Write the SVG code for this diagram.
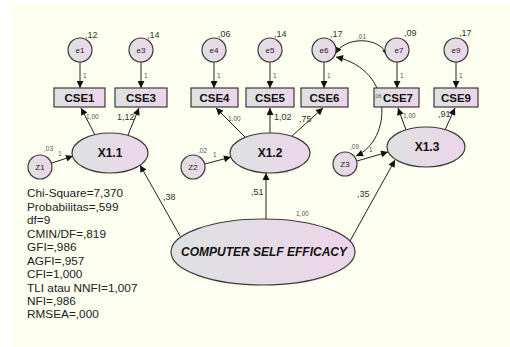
<svg xmlns="http://www.w3.org/2000/svg" width="510" height="347" viewBox="0 0 510 347">
  <defs>
    <linearGradient id="fillGrad" x1="0" y1="0" x2="1" y2="0">
      <stop offset="0" stop-color="#dde2e1"/>
      <stop offset="1" stop-color="#eed5ea"/>
    </linearGradient>
    <marker id="arrow" viewBox="0 0 10 10" refX="10" refY="5" markerWidth="8" markerHeight="7" markerUnits="userSpaceOnUse" orient="auto-start-reverse">
      <path d="M0,0 L10,5 L0,10 z" fill="#111"/>
    </marker>
    <style>
      .node { fill: url(#fillGrad); stroke: #3a3a3a; stroke-width: 1.2; }
      .edge { fill: none; stroke: #222; stroke-width: 1; }
      .arr { marker-end: url(#arrow); }
      .both { marker-start: url(#arrow); marker-end: url(#arrow); }
      text { font-family: "Liberation Sans", Arial, sans-serif; fill: #222; }
      .box { font-size: 11.5px; font-weight: bold; text-anchor: middle; fill: #111; }
      .lat { font-size: 12px; font-weight: bold; text-anchor: middle; fill: #111; }
      .err { font-size: 8px; text-anchor: middle; }
      .var { font-size: 9px; fill: #333; }
      .lbl { font-size: 9px; fill: #333; }
      .tiny { font-size: 6.5px; fill: #555; }
      .stat { font-size: 11.8px; fill: #222; }
    </style>
  </defs>

  <rect x="0" y="0" width="510" height="347" fill="#ffffff"/>
  <rect x="12" y="4" width="498" height="343" fill="#fdfff0"/>

  <!-- connectors -->
  <g id="connectors">
    <!-- error terms to indicators -->
    <line class="edge arr" x1="80" y1="62" x2="80" y2="88"/>
    <line class="edge arr" x1="141" y1="62" x2="141" y2="88"/>
    <line class="edge arr" x1="214" y1="62" x2="214" y2="88"/>
    <line class="edge arr" x1="270" y1="62" x2="270" y2="88"/>
    <line class="edge arr" x1="324" y1="62" x2="324" y2="88"/>
    <line class="edge arr" x1="397" y1="62" x2="397" y2="88"/>
    <line class="edge arr" x1="456" y1="62" x2="456" y2="88"/>
    <text class="tiny" x="83" y="78">1</text>
    <text class="tiny" x="144" y="78">1</text>
    <text class="tiny" x="217" y="78">1</text>
    <text class="tiny" x="273" y="78">1</text>
    <text class="tiny" x="327" y="78">1</text>
    <text class="tiny" x="400" y="78">1</text>
    <text class="tiny" x="459" y="78">1</text>

    <!-- latent factors to indicators -->
    <line class="edge arr" x1="95" y1="135" x2="81" y2="108"/>
    <line class="edge arr" x1="128" y1="135" x2="139" y2="108"/>
    <line class="edge arr" x1="245" y1="137" x2="216" y2="108"/>
    <line class="edge arr" x1="270" y1="133" x2="270" y2="108"/>
    <line class="edge arr" x1="292" y1="136" x2="323" y2="108"/>
    <line class="edge arr" x1="406" y1="130" x2="398" y2="108"/>
    <line class="edge arr" x1="445" y1="130" x2="455" y2="108"/>
    <text class="tiny" x="86" y="119">1,00</text>
    <text class="lbl" x="117" y="120">1,12</text>
    <text class="tiny" x="228" y="121">1,00</text>
    <text class="lbl" x="274" y="120">1,02</text>
    <text class="lbl" x="299" y="122">,75</text>
    <text class="tiny" x="403" y="118">1,00</text>
    <text class="lbl" x="438" y="117">,91</text>

    <!-- disturbances to factors -->
    <line class="edge arr" x1="52" y1="163" x2="73" y2="156"/>
    <line class="edge arr" x1="205" y1="164" x2="231" y2="157"/>
    <line class="edge arr" x1="357" y1="161" x2="388" y2="152"/>
    <text class="tiny" x="58" y="156">1</text>
    <text class="tiny" x="213" y="157">1</text>
    <text class="tiny" x="369" y="152">1</text>

    <!-- second-order factor to first-order factors -->
    <line class="edge arr" x1="180" y1="236" x2="140" y2="165"/>
    <line class="edge arr" x1="266" y1="219" x2="266" y2="173"/>
    <line class="edge arr" x1="350" y1="241" x2="395" y2="160"/>
    <text class="lbl" x="163" y="200">,38</text>
    <text class="lbl" x="251" y="195">,51</text>
    <text class="lbl" x="357" y="197">,35</text>
    <text class="tiny" x="296" y="216">1,00</text>

    <!-- covariances -->
    <path class="edge both" d="M335,54 C345,36 380,36 388,56"/>
    <path class="edge both" d="M336,57 C395,70 392,140 356,156"/>
    <text class="tiny" x="357" y="39">,01</text>
  </g>

  <!-- error terms -->
  <g id="e1"><circle class="node" cx="80" cy="50" r="12"/><text class="err" x="80" y="53">e1</text><text class="var" x="85" y="38">,12</text></g>
  <g id="e3"><circle class="node" cx="141" cy="50" r="12"/><text class="err" x="141" y="53">e3</text><text class="var" x="147" y="38">,14</text></g>
  <g id="e4"><circle class="node" cx="214" cy="50" r="12"/><text class="err" x="214" y="53">e4</text><text class="var" x="218" y="37">,06</text></g>
  <g id="e5"><circle class="node" cx="270" cy="50" r="12"/><text class="err" x="270" y="53">e5</text><text class="var" x="274" y="37">,14</text></g>
  <g id="e6"><circle class="node" cx="324" cy="50" r="12"/><text class="err" x="324" y="53">e6</text><text class="var" x="330" y="37">,17</text></g>
  <g id="e7"><circle class="node" cx="397" cy="50" r="12"/><text class="err" x="399" y="53">e7</text><text class="var" x="404" y="36">,09</text></g>
  <g id="e9"><circle class="node" cx="456" cy="50" r="12"/><text class="err" x="456" y="53">e9</text><text class="var" x="459" y="36">,17</text></g>

  <!-- indicators -->
  <g id="CSE1"><rect class="node" x="54" y="88" width="51" height="19"/><text class="box" x="79.5" y="102">CSE1</text></g>
  <g id="CSE3"><rect class="node" x="115" y="88" width="52" height="19"/><text class="box" x="141" y="102">CSE3</text></g>
  <g id="CSE4"><rect class="node" x="191" y="88" width="47" height="19"/><text class="box" x="214.5" y="102">CSE4</text></g>
  <g id="CSE5"><rect class="node" x="246" y="88" width="48" height="19"/><text class="box" x="270" y="102">CSE5</text></g>
  <g id="CSE6"><rect class="node" x="301" y="88" width="47" height="19"/><text class="box" x="324.5" y="102">CSE6</text></g>
  <g id="CSE7"><rect class="node" x="374" y="88" width="45" height="19"/><text class="box" x="398" y="102">CSE7</text><text class="tiny" x="374" y="98" style="font-size:5.5px">,06</text></g>
  <g id="CSE9"><rect class="node" x="434" y="88" width="44" height="19"/><text class="box" x="456" y="102">CSE9</text></g>

  <!-- first-order factors -->
  <g id="X1.1"><ellipse class="node" cx="110" cy="153" rx="38" ry="20"/><text class="lat" x="110" y="157">X1.1</text></g>
  <g id="X1.2"><ellipse class="node" cx="270" cy="153" rx="40" ry="20"/><text class="lat" x="270" y="157">X1.2</text></g>
  <g id="X1.3"><ellipse class="node" cx="426" cy="147" rx="39" ry="20"/><text class="lat" x="427" y="151">X1.3</text></g>

  <!-- disturbances -->
  <g id="Z1"><circle class="node" cx="40" cy="167" r="12"/><text class="err" x="40" y="170">Z1</text><text class="tiny" x="44" y="151">,03</text></g>
  <g id="Z2"><circle class="node" cx="193" cy="167" r="12"/><text class="err" x="193" y="170">Z2</text><text class="tiny" x="198" y="153">,02</text></g>
  <g id="Z3"><circle class="node" cx="345" cy="164" r="12"/><text class="err" x="345" y="167">Z3</text><text class="tiny" x="350" y="149">,09</text></g>

  <!-- second-order factor -->
  <g id="CSE"><ellipse class="node" cx="263" cy="252" rx="92" ry="33"/><text class="lat" x="264" y="256" style="font-style:italic">COMPUTER SELF EFFICACY</text></g>

  <!-- fit indices -->
  <g id="fit">
    <text class="stat" x="27" y="197">Chi-Square=7,370</text>
    <text class="stat" x="27" y="211">Probabilitas=,599</text>
    <text class="stat" x="27" y="224">df=9</text>
    <text class="stat" x="27" y="238">CMIN/DF=,819</text>
    <text class="stat" x="27" y="251">GFI=,986</text>
    <text class="stat" x="27" y="265">AGFI=,957</text>
    <text class="stat" x="27" y="278">CFI=1,000</text>
    <text class="stat" x="27" y="292">TLI atau NNFI=1,007</text>
    <text class="stat" x="27" y="305">NFI=,986</text>
    <text class="stat" x="27" y="318">RMSEA=,000</text>
  </g>
</svg>
